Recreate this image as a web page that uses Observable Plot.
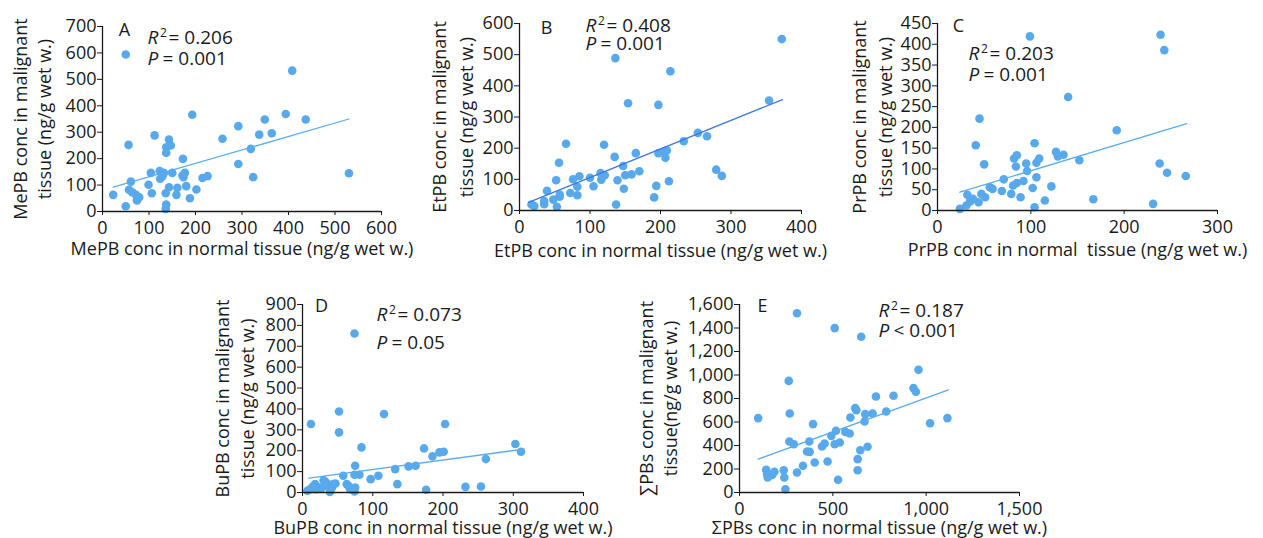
<!DOCTYPE html>
<html><head><meta charset="utf-8">
<script src="https://cdn.jsdelivr.net/npm/d3@7"></script>
<script src="https://cdn.jsdelivr.net/npm/@observablehq/plot@0.6"></script>
<style>
html,body{margin:0;padding:0;background:#fff;}
#chart{position:relative;width:1263px;height:538px;overflow:hidden;background:#fff;}
#chart svg{position:absolute;left:0;top:0;}
</style></head><body><div id="chart"></div>
<script>
// ---------- data ----------
const mepbNormal    = [23,50,56,61,57,64,72,75,79,74,99,104,106,112,123,124,129,132,136,137,136,137,137,143,147,143,150,159,161,172,173,174,177,180,188,193,202,215,226,258,292,292,319,324,337,349,364,394,408,437,530];
const mepbMalignant = [63,20,252,113,82,73,63,45,54,42,101,146,69,288,153,124,134,146,69,26,10,222,243,272,250,92,146,63,90,136,199,130,146,96,50,366,83,127,134,275,323,180,237,130,291,348,296,369,533,348,145];
const mepbFitX = [23, 530], mepbFitY = [92, 350];

const etpbNormal    = [17,21,35,35,39,48,53,52,56,57,57,66,72,76,82,82,85,100,105,115,116,121,120,135,136,137,139,147,148,150,154,159,165,170,191,194,197,197,204,207,209,212,214,233,253,266,279,287,354,372];
const etpbMalignant = [19,14,30,20,63,35,12,97,153,44,51,214,56,100,76,49,110,105,78,120,99,113,211,172,489,19,97,143,70,113,344,116,184,126,42,79,184,339,188,169,193,94,447,222,249,238,131,111,353,550];
const etpbFitX = [13, 373], etpbFitY = [26, 356];

const prpbNormal    = [24,32,31,35,38,41,44,45,47,50,51,56,59,69,71,79,81,82,85,84,85,89,92,95,96,99,102,104,104,106,106,109,115,122,127,129,135,140,152,167,192,231,238,239,243,246,266];
const prpbMalignant = [4,38,12,22,28,157,20,221,40,111,32,56,52,47,75,40,60,125,133,106,66,32,71,113,95,419,54,162,8,115,80,125,24,58,141,130,134,273,121,27,193,16,113,423,386,91,83];
const prpbFitX = [24, 267], prpbFitY = [44, 209];

const bupbNormal    = [12,7,11,18,19,24,30,32,36,39,42,44,47,52,52,58,63,68,74,74,75,75,74,81,84,97,108,116,132,135,151,161,173,176,185,195,201,203,232,254,261,303,311,15,27,33,40,66];
const bupbMalignant = [328,8,16,40,16,24,59,32,40,3,24,40,43,388,288,80,40,16,761,5,128,24,85,85,216,64,80,376,112,40,125,128,211,13,173,192,195,328,27,29,160,232,195,30,20,50,15,30];
const bupbFitX = [9, 316], bupbFitY = [69, 208];

const sumNormal    = [100,143,148,151,175,187,237,240,246,264,267,269,291,308,308,340,362,374,376,394,403,442,456,472,492,510,510,517,528,537,567,590,594,620,626,633,633,647,652,670,674,686,713,731,786,825,932,945,959,1021,1114];
const sumMalignant = [633,193,156,128,150,176,190,128,28,950,434,672,411,1526,170,227,349,434,346,582,255,391,417,264,482,1399,411,525,108,426,516,502,638,718,701,284,190,360,1325,604,667,389,672,817,689,823,888,857,1044,590,633];
const sumFitX = [100, 1119], sumFitY = [284, 874];

const ticksA_x = [0,100,200,300,400,500,600], ticksA_y = [0,100,200,300,400,500,600,700];
const ticksB_x = [0,100,200,300,400],         ticksB_y = [0,100,200,300,400,500,600];
const ticksC_x = [0,100,200,300],             ticksC_y = [0,50,100,150,200,250,300,350,400,450];
const ticksD_x = [0,100,200,300,400],         ticksD_y = [0,100,200,300,400,500,600,700,800,900];
const ticksE_x = [0,500,1000,1500],           ticksE_y = [0,200,400,600,800,1000,1200,1400,1600];

const legendX = [50], legendY = [594];

// ---------- drawing ----------
const W = 1263, H = 538;
const FONT = "'Open Sans', sans-serif";
const INK = "#1a1a1a";
const DOT = "#58a9ec";
const fmt = d3.format(",.0f");

function panel(c) {
  const L = c.box[0], T = c.box[1], R = c.box[2], B = c.box[3];
  const at = (text, ax, ay, o = {}) => Plot.text([text], {
    text: d => d, frameAnchor: "top-left", dx: ax - L, dy: ay - T,
    textAnchor: "start", lineAnchor: "bottom", fill: INK, fontSize: 18, ...o
  });
  const marks = [
    Plot.dot(c.ys, {x: c.xs, y: c.ys, r: 4.3, fill: DOT}),
    Plot.line(c.fitY, {x: c.fitX, y: c.fitY, stroke: c.lineColor, strokeWidth: 1.3}),
    Plot.ruleX([0], {stroke: INK, strokeWidth: 1.3}),
    Plot.ruleY([0], {stroke: INK, strokeWidth: 1.3}),
    at(c.letter[0], c.letter[1], c.letter[2], {textAnchor: "middle"}),
    at("R", c.r2[0], c.r2[1], {fontStyle: "italic", fontSize: 19}),
    at("2", c.r2[0] + 12.5, c.r2[1] - 7, {fontSize: 12}),
    at(c.r2text, c.r2[0] + 21, c.r2[1], {fontSize: 19}),
    at("P", c.p[0], c.p[1], {fontStyle: "italic", fontSize: 19}),
    at(c.ptext, c.p[0] + 15, c.p[1], {fontSize: 19}),
    Plot.text([c.ytitle[0]], {text: d => d, frameAnchor: "left", dx: c.ybase[0] - L, rotate: -90,
      textAnchor: "middle", lineAnchor: "bottom", fill: INK, fontSize: 18}),
    Plot.text([c.ytitle[1]], {text: d => d, frameAnchor: "left", dx: c.ybase[1] - L, rotate: -90,
      textAnchor: "middle", lineAnchor: "bottom", fill: INK, fontSize: 18}),
    Plot.text([c.xtitle], {text: d => d, frameAnchor: "bottom", dy: c.xbase - B,
      textAnchor: "middle", lineAnchor: "bottom", fill: INK, fontSize: 18})
  ];
  if (c.legend) marks.push(Plot.dot(legendY, {x: legendX, y: legendY, r: 4.3, fill: DOT}));
  return Plot.plot({
    width: W, height: H,
    marginLeft: L, marginTop: T, marginRight: W - R, marginBottom: H - B,
    style: {background: "transparent", overflow: "visible", fontFamily: FONT, fontSize: "18px", color: INK},
    x: {domain: c.xdom, ticks: c.xticks, tickSize: 4, tickPadding: 6, tickFormat: fmt, label: null},
    y: {domain: c.ydom, ticks: c.yticks, tickSize: 5, tickPadding: 1, tickFormat: fmt, label: null},
    marks
  });
}

const panels = [
  {box: [102, 26, 381, 211], xs: mepbNormal, ys: mepbMalignant, fitX: mepbFitX, fitY: mepbFitY,
   xdom: [0, 600], ydom: [0, 700], xticks: ticksA_x, yticks: ticksA_y, lineColor: "#5aabf0",
   letter: ["A", 124, 35], r2: [147, 43], p: [147, 64], r2text: "= 0.206", ptext: "= 0.001", legend: true,
   ytitle: ["MePB conc in malignant", "tissue (ng/g wet w.)"], ybase: [26, 50],
   xtitle: "MePB conc in normal tissue (ng/g wet w.)", xbase: 254},
  {box: [519, 23, 801, 210], xs: etpbNormal, ys: etpbMalignant, fitX: etpbFitX, fitY: etpbFitY,
   xdom: [0, 400], ydom: [0, 600], xticks: ticksB_x, yticks: ticksB_y, lineColor: "#3d78e3",
   letter: ["B", 546, 33], r2: [585, 31], p: [585, 49], r2text: "= 0.408", ptext: "= 0.001",
   ytitle: ["EtPB conc in malignant", "tissue (ng/g wet w.)"], ybase: [445, 472],
   xtitle: "EtPB conc in normal tissue (ng/g wet w.)", xbase: 256},
  {box: [937, 23, 1217, 210], xs: prpbNormal, ys: prpbMalignant, fitX: prpbFitX, fitY: prpbFitY,
   xdom: [0, 300], ydom: [0, 450], xticks: ticksC_x, yticks: ticksC_y, lineColor: "#5aabf0",
   letter: ["C", 958, 31], r2: [968, 59], p: [968, 80], r2text: "= 0.203", ptext: "= 0.001",
   ytitle: ["PrPB conc in malignant", "tissue (ng/g wet w.)"], ybase: [865, 891],
   xtitle: "PrPB conc in normal\u00a0 tissue (ng/g wet w.)", xbase: 255},
  {box: [302, 304, 583, 492], xs: bupbNormal, ys: bupbMalignant, fitX: bupbFitX, fitY: bupbFitY,
   xdom: [0, 400], ydom: [0, 900], xticks: ticksD_x, yticks: ticksD_y, lineColor: "#5aabf0",
   letter: ["D", 321, 311], r2: [376, 320], p: [376, 348], r2text: "= 0.073", ptext: "= 0.05",
   ytitle: ["BuPB conc in malignant", "tissue (ng/g wet w.)"], ybase: [228, 253],
   xtitle: "BuPB conc in normal tissue (ng/g wet w.)", xbase: 533},
  {box: [739, 304, 1019, 492], xs: sumNormal, ys: sumMalignant, fitX: sumFitX, fitY: sumFitY,
   xdom: [0, 1500], ydom: [0, 1600], xticks: ticksE_x, yticks: ticksE_y, lineColor: "#5aabf0",
   letter: ["E", 762, 311], r2: [878, 316], p: [878, 336], r2text: "= 0.187", ptext: "< 0.001",
   ytitle: ["\u2211PBs conc in malignant", "tissue(ng/g wet w.)"], ybase: [652, 676],
   xtitle: "\u03a3PBs conc in normal tissue (ng/g wet w.)", xbase: 533}
];

const root = document.getElementById("chart");
for (const c of panels) root.appendChild(panel(c));
</script>
</body></html>
